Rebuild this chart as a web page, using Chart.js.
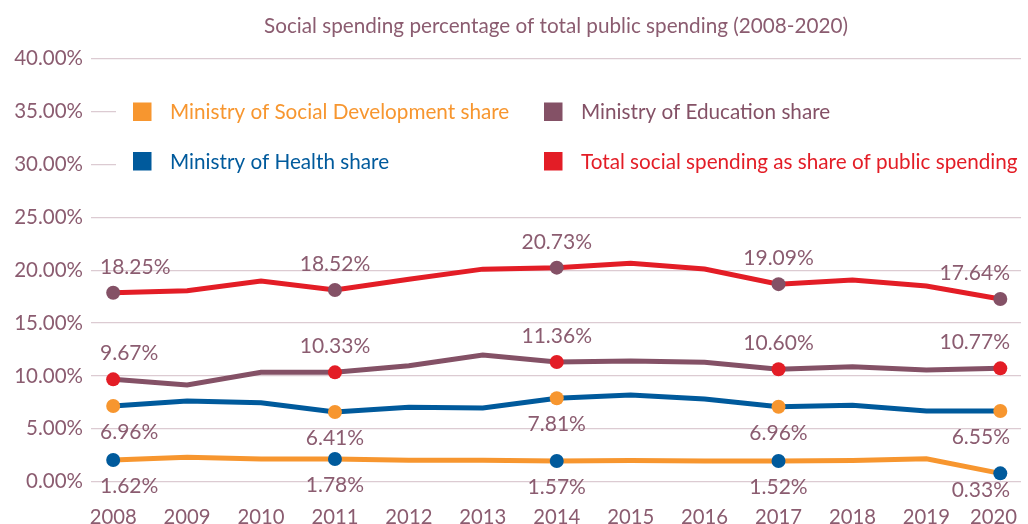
<!DOCTYPE html>
<html lang="en">
<head>
  <meta charset="UTF-8" />
  <title>Social spending percentage of total public spending (2008-2020)</title>
  <script src="https://cdn.jsdelivr.net/npm/chart.js"></script>
  <style>
    body {
      margin: 0;
      padding: 0;
      background: #ffffff;
    }
    .wrap {
      position: relative;
      width: 1028px;
      height: 524px;
    }
  </style>
</head>
<body>
  <div class="wrap">
    <canvas id="spendingChart"></canvas>
  </div>

  <script>
    // data
    const years = [2008, 2009, 2010, 2011, 2012, 2013, 2014, 2015, 2016, 2017, 2018, 2019, 2020];
    const totalShare = [17.87, 18.06, 18.98, 18.13, 19.15, 20.10, 20.24, 20.65, 20.11, 18.68, 19.07, 18.51, 17.28];
    const educationShare = [9.68, 9.14, 10.34, 10.34, 10.97, 11.98, 11.32, 11.41, 11.29, 10.63, 10.87, 10.56, 10.72];
    const healthShare = [7.16, 7.63, 7.47, 6.59, 7.04, 6.97, 7.89, 8.20, 7.82, 7.09, 7.22, 6.69, 6.69];
    const socialDevShare = [2.05, 2.31, 2.15, 2.15, 2.02, 2.02, 1.96, 2.00, 1.96, 1.96, 2.00, 2.17, 0.79];

    // which years carry a marker + label, and the label texts
    const labelIdx = [0, 3, 6, 9, 12];
    const totalLabels = ['18.25%', '18.52%', '20.73%', '19.09%', '17.64%'];
    const educationLabels = ['9.67%', '10.33%', '11.36%', '10.60%', '10.77%'];
    const healthLabels = ['6.96%', '6.41%', '7.81%', '6.96%', '6.55%'];
    const socialDevLabels = ['1.62%', '1.78%', '1.57%', '1.52%', '0.33%'];

    const yTicks = [0, 5, 10, 15, 20, 25, 30, 35, 40];

    const ORANGE = '#f7962f';
    const BLUE = '#005a9c';
    const MAUVE = '#845166';
    const RED = '#e31d26';
    const TEXT = '#8b5c70';
    const FONT = 'Lato, "Open Sans", sans-serif';

    function series(name, values, color, marker, labels, above) {
      return {
        label: name,
        data: years.map((y, i) => ({ x: y, y: values[i] })),
        borderColor: color,
        backgroundColor: color,
        borderWidth: 5,
        tension: 0,
        pointRadius: c => labelIdx.includes(c.dataIndex) ? 7 : 0,
        pointHoverRadius: 0,
        pointBackgroundColor: marker,
        pointBorderWidth: 0,
        valueLabels: labels,
        above: above
      };
    }

    const legendItems = [
      { text: 'Ministry of Social Development share', color: ORANGE, x: 133, y: 119 },
      { text: 'Ministry of Health share', color: BLUE, x: 133, y: 168.5 },
      { text: 'Ministry of Education share', color: MAUVE, x: 544, y: 119 },
      { text: 'Total social spending as share of public spending', color: RED, x: 544, y: 168.5 }
    ];

    const overlay = {
      id: 'overlay',
      beforeDatasetsDraw(chart) {
        const ctx = chart.ctx;
        ctx.save();
        // legend sits on a white box over the grid
        ctx.fillStyle = '#ffffff';
        ctx.fillRect(116, 86, 912, 102);
        ctx.font = '20.7px ' + FONT;
        ctx.textBaseline = 'alphabetic';
        ctx.textAlign = 'left';
        legendItems.forEach(it => {
          ctx.fillStyle = it.color;
          ctx.fillRect(it.x, it.y - 16.5, 18.5, 18.5);
          ctx.fillText(it.text, it.x + 37, it.y);
        });
        ctx.restore();
      },
      afterDatasetsDraw(chart) {
        const ctx = chart.ctx;
        const area = chart.chartArea;
        ctx.save();
        ctx.font = '21px ' + FONT;
        ctx.fillStyle = TEXT;
        ctx.textAlign = 'center';
        ctx.textBaseline = 'alphabetic';

        // value labels
        chart.data.datasets.forEach((ds, i) => {
          const meta = chart.getDatasetMeta(i);
          labelIdx.forEach((idx, k) => {
            const pt = meta.data[idx];
            const txt = ds.valueLabels[k];
            const w = ctx.measureText(txt).width;
            const cx = Math.min(Math.max(pt.x, 100 + w / 2), 1010 - w / 2);
            let by = ds.above ? pt.y - 19 : pt.y + 33;
            by = Math.min(by, 497);
            ctx.fillText(txt, cx, by);
          });
        });

        // x tick labels, the last one kept inside the canvas
        ctx.font = '20.3px ' + FONT;
        const xs = chart.scales.x;
        years.forEach(y => {
          const txt = String(y);
          const w = ctx.measureText(txt).width;
          const cx = Math.min(xs.getPixelForValue(y), 1017 - w / 2);
          ctx.fillText(txt, cx, 524);
        });

        // title
        ctx.font = '20.7px ' + FONT;
        ctx.fillText('Social spending percentage of total public spending (2008-2020)', (area.left + area.right) / 2, 33);
        ctx.restore();
      }
    };

    new Chart(document.getElementById('spendingChart').getContext('2d'), {
      type: 'line',
      data: {
        datasets: [
          series('Total social spending as share of public spending', totalShare, RED, MAUVE, totalLabels, true),
          series('Ministry of Education share', educationShare, MAUVE, RED, educationLabels, true),
          series('Ministry of Health share', healthShare, BLUE, ORANGE, healthLabels, false),
          series('Ministry of Social Development share', socialDevShare, ORANGE, BLUE, socialDevLabels, false)
        ]
      },
      options: {
        responsive: true,
        maintainAspectRatio: false,
        animation: false,
        layout: { padding: { top: 58.7, right: 0, bottom: 0, left: 0 } },
        plugins: {
          legend: { display: false },
          title: { display: false },
          tooltip: { enabled: false }
        },
        scales: {
          x: {
            type: 'linear',
            min: 2007.7,
            max: 2020.28,
            ticks: { display: false },
            grid: { display: false },
            border: { display: false },
            afterFit: s => { s.height = 42.3; s.paddingLeft = 0; s.paddingRight = 0; }
          },
          y: {
            min: 0,
            max: 40,
            afterBuildTicks: s => { s.ticks = yTicks.map(v => ({ value: v })); },
            ticks: {
              padding: 8,
              color: TEXT,
              font: { family: FONT, size: 20.5 },
              callback: v => v.toFixed(2) + '%'
            },
            grid: { color: '#dccbd2', lineWidth: 1.3, drawTicks: false },
            border: { display: false },
            afterFit: s => { s.width = 91; }
          }
        }
      },
      plugins: [overlay]
    });
  </script>
</body>
</html>
